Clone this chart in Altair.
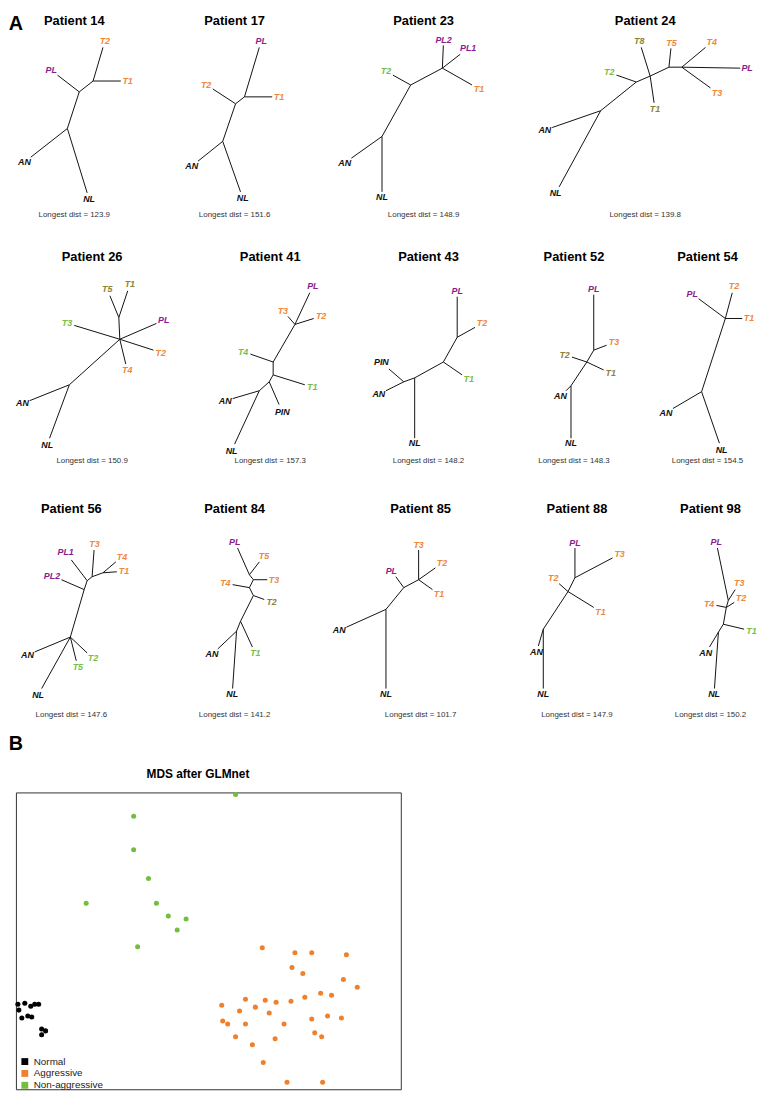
import math
import altair as alt
import pandas as pd

# ---------------- Panel A : phylogenetic trees ----------------
PATIENTS = ["14", "17", "23", "24", "26", "41", "43", "52", "54", "56", "84", "85", "88", "98"]
PANEL_ROW = [0, 0, 0, 0, 1, 1, 1, 1, 1, 2, 2, 2, 2, 2]
PANEL_X = [75, 237, 428, 652, 93, 273, 433, 580, 715, 72, 237, 425, 583, 718]
ROW_ORIGIN_Y = [9, 254, 509]
ROW_TITLE_Y = [15, 254, 509]
ROW_DIST_Y = [211, 460, 717]
LONGEST_DIST = ["123.9", "151.6", "148.9", "139.8", "150.9", "157.3", "148.2",
                "148.3", "154.5", "147.6", "141.2", "101.7", "147.9", "150.2"]

# node: (name, parent, x, y, kind)  kind: N normal, P PL, A aggressive, G non-aggressive, M mixed, "" internal
P14 = [("c", None, -7, 115, ""), ("AN", "c", -44, 144, "N"), ("NL", "c", 13, 180, "N"),
       ("b", "c", 5, 78, ""), ("PL", "b", -17, 61, "P"), ("a", "b", 19, 67, ""),
       ("T1", "a", 47, 67, "A"), ("T2", "a", 29, 33, "A")]
P17 = [("c", None, -12, 128, ""), ("AN", "c", -37, 148, "N"), ("NL", "c", 6, 179, "N"),
       ("b", "c", 1, 90, ""), ("T2", "b", -22, 75, "A"), ("a", "b", 10, 83, ""),
       ("T1", "a", 38, 83, "A"), ("PL", "a", 25, 33, "P")]
P23 = [("c", None, -42, 123, ""), ("AN", "c", -73, 145, "N"), ("NL", "c", -42, 179, "N"),
       ("b", "c", -13, 71, ""), ("T2", "b", -31, 61, "G"), ("a", "b", 19, 54, ""),
       ("PL2", "a", 20, 31, "P"), ("PL1", "a", 37, 40, "P"), ("T1", "a", 49, 71, "A")]
P24 = [("e", None, -45, 97, ""), ("AN", "e", -94, 114, "N"), ("NL", "e", -87, 174, "N"),
       ("a", "e", -9, 68, ""), ("T2", "a", -29, 61, "G"), ("b", "a", 5, 62, ""),
       ("T8", "b", -4, 33, "M"), ("T1", "b", 9, 89, "M"), ("c", "b", 24, 53, ""),
       ("T5", "c", 26, 34, "A"), ("d", "c", 37, 53, ""), ("T4", "d", 61, 33, "A"),
       ("PL", "d", 96, 54, "P"), ("T3", "d", 66, 74, "A")]
P26 = [("c", None, -23, 129, ""), ("AN", "c", -63, 145, "N"), ("NL", "c", -43, 183, "N"),
       ("b", "c", 28, 83, ""), ("T3", "b", -18, 69, "G"), ("PL", "b", 65, 67, "P"),
       ("T2", "b", 62, 94, "A"), ("T4", "b", 34, 108, "A"), ("a", "b", 27, 61, ""),
       ("T5", "a", 18, 39, "M"), ("T1", "a", 36, 34, "M")]
P41 = [("d", None, -11, 135, ""), ("AN", "d", -38, 143, "N"), ("NL", "d", -36, 189, "N"),
       ("e", "d", -1, 126, ""), ("PIN", "e", 9, 149, "N"), ("c", "e", 3, 119, ""),
       ("T1", "c", 35, 129, "G"), ("b", "c", 3, 106, ""), ("T4", "b", -20, 98, "G"),
       ("a", "b", 25, 68, ""), ("T3", "a", 18, 60, "A"), ("T2", "a", 44, 62, "A"),
       ("PL", "a", 40, 36, "P")]
P43 = [("c", None, -14, 122, ""), ("NL", "c", -14, 183, "N"), ("d", "c", -25, 126, ""),
       ("PIN", "d", -40, 113, "N"), ("AN", "d", -43, 135, "N"), ("b", "c", 15, 106, ""),
       ("T1", "b", 34, 119, "G"), ("a", "b", 29, 81, ""), ("T2", "a", 47, 71, "A"),
       ("PL", "a", 29, 40, "P")]
P52 = [("c", None, -3, 130, ""), ("AN", "c", -8, 135, "N"), ("NL", "c", -3, 183, "N"),
       ("b", "c", 13, 106, ""), ("T2", "b", -2, 101, "M"), ("T1", "b", 30, 114, "M"),
       ("a", "b", 20, 94, ""), ("T3", "a", 33, 89, "A"), ("PL", "a", 20, 38, "P")]
P54 = [("b", None, -6, 136, ""), ("AN", "b", -35, 153, "N"), ("NL", "b", 12, 188, "N"),
       ("a", "b", 18, 62, ""), ("PL", "a", -9, 42, "P"), ("T2", "a", 25, 36, "A"),
       ("T1", "a", 35, 62, "A")]
P56 = [("n5", None, -1, 129, ""), ("AN", "n5", -37, 144, "N"), ("NL", "n5", -30, 181, "N"),
       ("T2", "n5", 16, 145, "G"), ("T5", "n5", 5, 153, "G"), ("n4", "n5", 13, 81, ""),
       ("PL2", "n4", -10, 71, "P"), ("n3", "n4", 16, 72, ""), ("PL1", "n3", 0, 51, "P"),
       ("n2", "n3", 21, 68, ""), ("T3", "n2", 23, 41, "A"), ("n1", "n2", 32, 64, ""),
       ("T4", "n1", 45, 53, "A"), ("T1", "n1", 46, 63, "A")]
P84 = [("n6", None, 2, 123, ""), ("AN", "n6", -17, 141, "N"), ("NL", "n6", -2, 181, "N"),
       ("n5", "n6", 6, 113, ""), ("T1", "n5", 18, 139, "G"), ("n4", "n5", 19, 87, ""),
       ("T2", "n4", 30, 91, "M"), ("n3", "n4", 15, 79, ""), ("T4", "n3", -2, 76, "A"),
       ("n2", "n3", 19, 71, ""), ("T3", "n2", 33, 71, "A"), ("n1", "n2", 15, 66, ""),
       ("PL", "n1", 3, 39, "P"), ("T5", "n1", 25, 53, "A")]
P85 = [("c", None, -35, 101, ""), ("AN", "c", -75, 119, "N"), ("NL", "c", -35, 181, "N"),
       ("b", "c", -17, 79, ""), ("PL", "b", -25, 68, "P"), ("a", "b", -2, 71, ""),
       ("T3", "a", -2, 41, "A"), ("T2", "a", 15, 59, "A"), ("T1", "a", 12, 81, "A")]
P88 = [("c", None, -34, 121, ""), ("AN", "c", -39, 138, "N"), ("NL", "c", -34, 181, "N"),
       ("b", "c", -9, 83, ""), ("T2", "b", -18, 75, "A"), ("T1", "b", 17, 99, "A"),
       ("a", "b", -2, 69, ""), ("PL", "a", -2, 39, "P"), ("T3", "a", 36, 49, "A")]
P98 = [("d", None, 8, 124, ""), ("AN", "d", -1, 139, "N"), ("NL", "d", 4, 181, "N"),
       ("c", "d", 13, 116, ""), ("T1", "c", 34, 121, "G"), ("b", "c", 16, 99, ""),
       ("T2", "b", 24, 94, "A"), ("T4", "b", 6, 97, "A"), ("a", "b", 18, 92, ""),
       ("T3", "a", 25, 81, "A"), ("PL", "a", 7, 39, "P")]
TREES = [P14, P17, P23, P24, P26, P41, P43, P52, P54, P56, P84, P85, P88, P98]

KIND_DOMAIN = ["N", "P", "A", "G", "M"]
KIND_COLORS = ["#111111", "#8B1C8E", "#F0883A", "#78BE43", "#8A8339"]

PANEL_LETTERS = ["A", "B"]
PANEL_LETTER_X = [16, 16]
PANEL_LETTER_Y = [18, 746]

# ---------------- Panel B : MDS scatter ----------------
MDS_TITLE = "MDS after GLMnet"
GROUPS = ["Normal", "Aggressive", "Non-aggressive"]
GROUP_COLORS = ["#000000", "#F0812C", "#74BE3F"]
NORMAL_D1 = [-3.85, -3.71, -3.51, -3.43, -3.59, -3.83, -3.77, -3.65, -3.57, -3.37, -3.29, -3.37]
NORMAL_D2 = [-1.28, -1.26, -1.28, -1.28, -1.32, -1.40, -1.56, -1.52, -1.54, -1.78, -1.82, -1.90]
AGGR_D1 = [1.09, 1.75, 2.09, 2.79, 1.69, 1.91, 2.73, 3.01, 2.27, 2.49, 1.95, 0.75, 1.15, 1.67,
           1.37, 0.27, 0.95, 0.63, 1.23, 2.41, 2.69, 2.09, 0.29, 0.39, 0.75, 1.53, 2.15, 0.55,
           2.29, 1.35, 0.89, 1.11, 1.59, 2.31]
AGGR_D2 = [-0.14, -0.24, -0.24, -0.28, -0.54, -0.66, -0.78, -0.94, -1.06, -1.10, -1.14, -1.18,
           -1.20, -1.22, -1.24, -1.30, -1.34, -1.42, -1.46, -1.52, -1.56, -1.58, -1.62, -1.68,
           -1.68, -1.68, -1.86, -1.94, -1.94, -1.98, -2.10, -2.46, -2.86, -2.86]
NONAGGR_D1 = [0.55, -1.51, -1.51, -1.21, -2.47, -1.05, -0.81, -0.45, -0.63, -1.43]
NONAGGR_D2 = [2.96, 2.52, 1.84, 1.26, 0.76, 0.76, 0.50, 0.44, 0.22, -0.12]

FONT = "Liberation Sans"

# ---------- build tables ----------
edges, tips, titles, dists = [], [], [], []
for i, pid in enumerate(PATIENTS):
    ox = PANEL_X[i]
    oy = ROW_ORIGIN_Y[PANEL_ROW[i]]
    nodes = {n[0]: n for n in TREES[i]}
    for name, parent, x, y, kind in TREES[i]:
        if parent is None:
            continue
        px, py = nodes[parent][2], nodes[parent][3]
        edges.append({"x": ox + px, "y": oy + py, "x2": ox + x, "y2": oy + y})
        if kind:
            dx, dy = x - px, y - py
            L = math.hypot(dx, dy) or 1.0
            ux, uy = dx / L, dy / L
            off = 1.5 + 2.7 * len(name) * abs(ux) + 3.8 * abs(uy)
            tips.append({"x": ox + x + off * ux, "y": oy + y + off * uy,
                         "label": name, "kind": kind})
    titles.append({"x": ox, "y": ROW_TITLE_Y[PANEL_ROW[i]], "label": "Patient " + pid})
    dists.append({"x": ox, "y": ROW_DIST_Y[PANEL_ROW[i]],
                  "label": "Longest dist = " + LONGEST_DIST[i]})

edges_df = pd.DataFrame(edges)
tips_df = pd.DataFrame(tips)
titles_df = pd.DataFrame(titles)
dists_df = pd.DataFrame(dists)
letters_df = pd.DataFrame({"x": PANEL_LETTER_X, "y": PANEL_LETTER_Y, "label": PANEL_LETTERS})
mds_title_df = pd.DataFrame({"x": [200], "y": [776], "label": [MDS_TITLE]})

XS = alt.Scale(domain=[8, 765], nice=False, zero=False)
YS = alt.Scale(domain=[8, 785], nice=False, zero=False, reverse=True)
X = alt.X("x:Q", scale=XS, axis=None)
Y = alt.Y("y:Q", scale=YS, axis=None)

rules = alt.Chart(edges_df).mark_rule(color="#111111", strokeWidth=1).encode(
    x=X, y=Y, x2="x2:Q", y2="y2:Q")
tip_text = alt.Chart(tips_df).mark_text(
    font=FONT, fontSize=9, fontStyle="italic", fontWeight="bold",
    align="center", baseline="middle").encode(
    x=X, y=Y, text="label:N",
    color=alt.Color("kind:N", scale=alt.Scale(domain=KIND_DOMAIN, range=KIND_COLORS), legend=None))
title_text = alt.Chart(titles_df).mark_text(
    font=FONT, fontSize=13, fontWeight="bold", color="#000000",
    align="center", baseline="middle").encode(x=X, y=Y, text="label:N")
dist_text = alt.Chart(dists_df).mark_text(
    font=FONT, fontSize=8, color="#333333",
    align="center", baseline="middle").encode(x=X, y=Y, text="label:N")
letter_text = alt.Chart(letters_df).mark_text(
    font=FONT, fontSize=20, fontWeight="bold", color="#000000",
    align="center", baseline="middle").encode(x=X, y=Y, text="label:N")
mds_title = alt.Chart(mds_title_df).mark_text(
    font=FONT, fontSize=12, fontWeight="bold", color="#000000",
    align="center", baseline="middle").encode(x=X, y=Y, text="label:N")

top = alt.layer(rules, tip_text, title_text, dist_text, letter_text, mds_title).properties(
    width=757, height=777)

# scatter
mds_rows = []
for g, d1s, d2s in [(GROUPS[0], NORMAL_D1, NORMAL_D2), (GROUPS[1], AGGR_D1, AGGR_D2),
                    (GROUPS[2], NONAGGR_D1, NONAGGR_D2)]:
    for a, b in zip(d1s, d2s):
        mds_rows.append({"d1": a, "d2": b, "group": g})
mds_df = pd.DataFrame(mds_rows)

scatter = alt.Chart(mds_df).mark_circle(size=26, opacity=1).encode(
    x=alt.X("d1:Q", scale=alt.Scale(domain=[-3.89, 3.89], nice=False, zero=False), axis=None),
    y=alt.Y("d2:Q", scale=alt.Scale(domain=[-3.0, 3.0], nice=False, zero=False), axis=None),
    color=alt.Color("group:N", scale=alt.Scale(domain=GROUPS, range=GROUP_COLORS),
                    legend=alt.Legend(title=None, orient="none", legendX=12, legendY=267,
                                      symbolType="square", symbolSize=48, symbolStrokeWidth=0,
                                      labelFont=FONT, labelFontSize=10, labelColor="#222222",
                                      padding=0, rowPadding=2, labelOffset=4)),
).properties(width=389, height=300, view=alt.ViewBackground(stroke="#333333", strokeWidth=1))

spacer = alt.Chart(pd.DataFrame({"v": [0]})).mark_point(opacity=0, size=0).encode(
    x=alt.value(0), y=alt.value(0)).properties(width=6, height=300)

bottom = alt.hconcat(spacer, scatter, spacing=0)

chart = (alt.vconcat(top, bottom, spacing=8)
         .resolve_scale(color="independent")
         .resolve_legend(color="independent")
         .properties(padding=0)
         .configure_view(stroke=None))

chart.save("out.html", embed_options={"renderer": "svg", "actions": False})
